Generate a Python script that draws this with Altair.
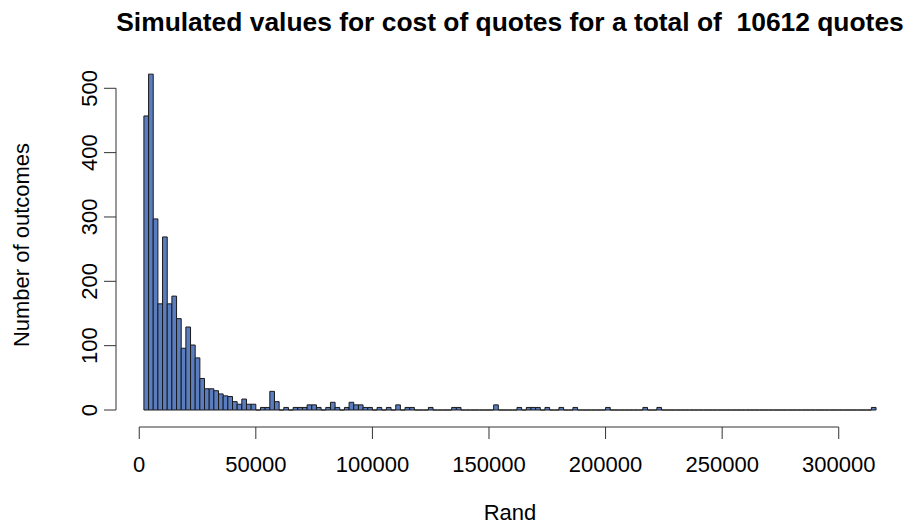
import altair as alt
import pandas as pd

# ---- data ----
bin_width = 2000
first_break = 2000
counts = [
    457, 522, 297, 165, 269, 165, 177, 142, 96, 129, 101, 81, 49, 33, 33, 30, 25, 22, 21, 13,
    9, 17, 9, 9, 0, 4, 4, 29, 13, 0, 4, 0, 4, 4, 4, 8, 8, 4, 0, 4,
    12, 4, 0, 4, 12, 8, 8, 4, 4, 0, 4, 0, 4, 0, 8, 0, 4, 4, 0, 0,
    0, 4, 0, 0, 0, 0, 4, 4, 0, 0, 0, 0, 0, 0, 0, 8, 0, 0, 0, 0,
    4, 0, 4, 4, 4, 0, 4, 0, 0, 4, 0, 0, 4, 0, 0, 0, 0, 0, 0, 4,
    0, 0, 0, 0, 0, 0, 0, 4, 0, 0, 4, 0, 0, 0, 0, 0, 0, 0, 0, 0,
    0, 0, 0, 0, 0, 0, 0, 0, 0, 0, 0, 0, 0, 0, 0, 0, 0, 0, 0, 0,
    0, 0, 0, 0, 0, 0, 0, 0, 0, 0, 0, 0, 0, 0, 0, 0, 4,
]
x_ticks = [0, 50000, 100000, 150000, 200000, 250000, 300000]
x_tick_labels = ["0", "50000", "100000", "150000", "200000", "250000", "300000"]
y_ticks = [0, 100, 200, 300, 400, 500]
y_tick_labels = ["0", "100", "200", "300", "400", "500"]
# the reference has two spaces before the number; a no-break space keeps both visible
title_text = "Simulated values for cost of quotes for a total of \u00a010612 quotes"
x_title = "Rand"
y_title = "Number of outcomes"

starts = [first_break + i * bin_width for i in range(len(counts))]
bars = pd.DataFrame({
    "start": starts,
    "end": [s + bin_width for s in starts],
    "count": counts,
    "base": [0] * len(counts),
})
xt = pd.DataFrame({"v": x_ticks, "lab": x_tick_labels})
yt = pd.DataFrame({"v": y_ticks, "lab": y_tick_labels})
xline = pd.DataFrame({"a": [x_ticks[0]], "b": [x_ticks[-1]]})
yline = pd.DataFrame({"a": [y_ticks[0]], "b": [y_ticks[-1]]})
one = pd.DataFrame({"k": [0]})

W, H = 788, 366
FONT = "Liberation Sans"
AX = "#333333"
xs = alt.Scale(domain=[-9967, 327986], nice=False, zero=False)
ys = alt.Scale(domain=[-26.4, 542.4], nice=False, zero=False)

bar_layer = alt.Chart(bars).mark_rect(
    fill="#5A7DC0", stroke="#1a1a1a", strokeWidth=1
).encode(
    x=alt.X("start:Q", scale=xs, axis=None),
    x2="end:Q",
    y=alt.Y("count:Q", scale=ys, axis=None),
    y2="base:Q",
)

x_axis_line = alt.Chart(xline).mark_rule(color=AX, strokeWidth=1).encode(
    x=alt.X("a:Q", scale=xs, axis=None), x2="b:Q", y=alt.value(H)
)
x_axis_ticks = alt.Chart(xt).mark_rule(color=AX, strokeWidth=1).encode(
    x=alt.X("v:Q", scale=xs, axis=None), y=alt.value(H), y2=alt.value(H + 12)
)
x_axis_labels = alt.Chart(xt).mark_text(
    font=FONT, fontSize=22, color="black", baseline="middle", align="center"
).encode(
    x=alt.X("v:Q", scale=xs, axis=None), y=alt.value(H + 38), text="lab:N"
)

y_axis_line = alt.Chart(yline).mark_rule(color=AX, strokeWidth=1).encode(
    y=alt.Y("a:Q", scale=ys, axis=None), y2="b:Q", x=alt.value(0)
)
y_axis_ticks = alt.Chart(yt).mark_rule(color=AX, strokeWidth=1).encode(
    y=alt.Y("v:Q", scale=ys, axis=None), x=alt.value(0), x2=alt.value(-12)
)
y_axis_labels = alt.Chart(yt).mark_text(
    font=FONT, fontSize=22, color="black", baseline="middle", align="center", angle=270
).encode(
    y=alt.Y("v:Q", scale=ys, axis=None), x=alt.value(-26), text="lab:N"
)

x_title_layer = alt.Chart(one).mark_text(
    font=FONT, fontSize=22, color="black", baseline="middle", align="center", text=x_title
).encode(x=alt.value(394), y=alt.value(452))

y_title_layer = alt.Chart(one).mark_text(
    font=FONT, fontSize=22, color="black", baseline="middle", align="center",
    angle=270, text=y_title
).encode(x=alt.value(-94), y=alt.value(184))

main_title = alt.Chart(one).mark_text(
    font=FONT, fontSize=26.4, fontWeight="bold", color="black",
    baseline="middle", align="center", text=title_text
).encode(x=alt.value(394), y=alt.value(-38))

chart = alt.layer(
    bar_layer, x_axis_line, x_axis_ticks, x_axis_labels,
    y_axis_line, y_axis_ticks, y_axis_labels,
    x_title_layer, y_title_layer, main_title,
).properties(
    width=W, height=H,
    autosize=alt.AutoSizeParams(type="none"),
    padding={"left": 108, "top": 53, "right": 1, "bottom": 97},
    background="white",
).configure_view(stroke=None)

chart.save("out.html", embed_options={"renderer": "svg", "actions": False})
